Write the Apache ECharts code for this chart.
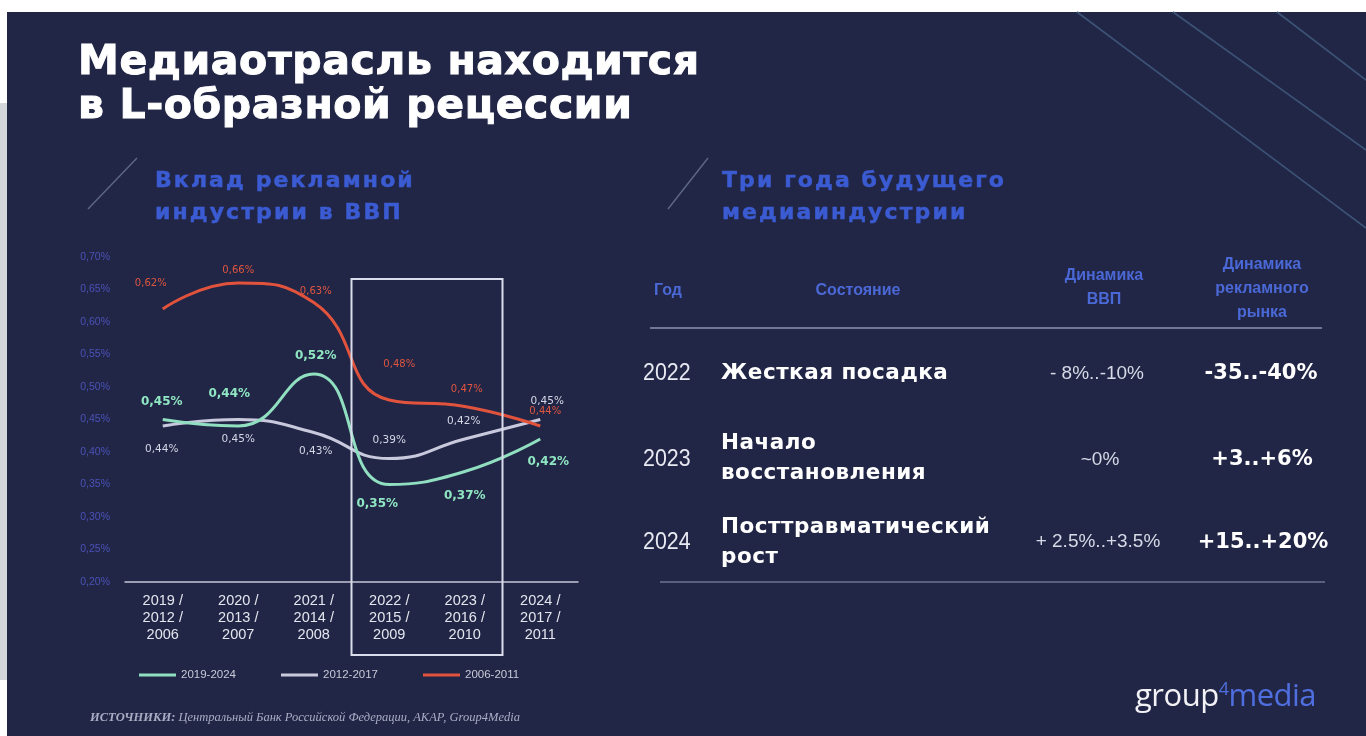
<!DOCTYPE html>
<html><head><meta charset="utf-8">
<script src="https://cdn.jsdelivr.net/npm/echarts@6/dist/echarts.min.js"></script>
<style>
html,body{margin:0;padding:0;width:1366px;height:736px;overflow:hidden;background:#ffffff;}
#slide{position:absolute;left:7px;top:12px;width:1359px;height:724px;background:#222646;}
#gray{position:absolute;left:0;top:103px;width:7px;height:577px;background:#d3d7da;}
#chart{position:absolute;left:0;top:0;width:1366px;height:736px;z-index:2;}
.t{position:absolute;z-index:3;white-space:nowrap;}
.title{left:78px;top:38px;font-family:"DejaVu Sans",sans-serif;font-weight:bold;font-size:41px;line-height:44px;letter-spacing:0.6px;color:#ffffff;-webkit-text-stroke:1px #ffffff;}
.sub{font-family:"DejaVu Sans",sans-serif;font-weight:bold;font-size:22px;line-height:32px;letter-spacing:2.1px;color:#3b5bd2;top:164px;-webkit-text-stroke:0.5px #3b5bd2;}
.hdr{font-family:"Liberation Sans",sans-serif;font-weight:bold;font-size:16px;line-height:24px;color:#4a68d6;text-align:center;transform:translateX(-50%);}
.yr{font-family:"Liberation Sans Narrow","Liberation Sans",sans-serif;font-size:23px;color:#e8eaf2;left:643px;transform:translateY(-50%) scaleX(0.93);transform-origin:left center;}
.st{font-family:"DejaVu Sans",sans-serif;font-weight:bold;font-size:21.5px;line-height:30px;letter-spacing:0.5px;color:#ffffff;left:721px;transform:translateY(-50%);}
.gdp{font-family:"Liberation Sans Narrow","Liberation Sans",sans-serif;font-size:19px;color:#d6dae6;transform:translate(-50%,-50%);}
.adv{font-family:"DejaVu Sans",sans-serif;font-weight:bold;font-size:21px;color:#ffffff;transform:translate(-50%,-50%);}
.logo{left:1135px;top:668px;font-family:"Open Sans",sans-serif;font-size:31px;line-height:40px;color:#f2f2f6;letter-spacing:-0.5px;}
.src{left:90px;top:710px;font-family:"Liberation Serif",serif;font-style:italic;font-size:12.5px;color:#a9adc4;}
</style></head>
<body>
<div id="slide"></div>
<div id="gray"></div>
<svg style="position:absolute;left:0;top:0;z-index:1" width="1366" height="736">
  <line x1="1077" y1="12" x2="1366" y2="228" stroke="#3c5376" stroke-width="1.6"/>
  <line x1="1173" y1="12" x2="1366" y2="150" stroke="#3c5376" stroke-width="1.6"/>
  <line x1="1277" y1="12" x2="1366" y2="80" stroke="#3c5376" stroke-width="1.6"/>
  <line x1="88" y1="209" x2="137" y2="158" stroke="#5d6788" stroke-width="1.4"/>
  <line x1="668" y1="209" x2="708" y2="158" stroke="#5d6788" stroke-width="1.4"/>
  <line x1="650" y1="328" x2="1322" y2="328" stroke="#8d93ad" stroke-width="1.6"/>
  <line x1="660" y1="582" x2="1325" y2="582" stroke="#6d7392" stroke-width="1.6"/>
</svg>
<div id="chart"></div>
<div class="t title">Медиаотрасль находится<br>в L-образной рецессии</div>
<div class="t sub" style="left:155px">Вклад рекламной<br>индустрии в ВВП</div>
<div class="t sub" style="left:722px">Три года будущего<br>медиаиндустрии</div>
<div class="t hdr" style="left:668px;top:278px">Год</div>
<div class="t hdr" style="left:858px;top:278px">Состояние</div>
<div class="t hdr" style="left:1104px;top:263px">Динамика<br>ВВП</div>
<div class="t hdr" style="left:1262px;top:252px">Динамика<br>рекламного<br>рынка</div>
<div class="t yr" style="top:372px">2022</div>
<div class="t yr" style="top:458px">2023</div>
<div class="t yr" style="top:541px">2024</div>
<div class="t st" style="top:372px">Жесткая посадка</div>
<div class="t st" style="top:457px">Начало<br>восстановления</div>
<div class="t st" style="top:541px">Посттравматический<br>рост</div>
<div class="t gdp" style="left:1097px;top:373px">- 8%..-10%</div>
<div class="t gdp" style="left:1100px;top:459px">~0%</div>
<div class="t gdp" style="left:1098px;top:541px">+ 2.5%..+3.5%</div>
<div class="t adv" style="left:1261px;top:372px">-35..-40%</div>
<div class="t adv" style="left:1262px;top:458px">+3..+6%</div>
<div class="t adv" style="left:1263px;top:541px">+15..+20%</div>
<div class="t logo">group<span style="font-size:18px;vertical-align:11px;color:#4f6fe0">4</span><span style="color:#4f6fe0">media</span></div>
<div class="t src"><b>ИСТОЧНИКИ:</b> Центральный Банк Российской Федерации, АКАР, Group4Media</div>
<script>
// ---- data ----
const categories = ['2019 /\n2012 /\n2006','2020 /\n2013 /\n2007','2021 /\n2014 /\n2008','2022 /\n2015 /\n2009','2023 /\n2016 /\n2010','2024 /\n2017 /\n2011'];
const seriesNames = ['2019-2024','2012-2017','2006-2011'];
const values2019_2024 = [0.45,0.44,0.52,0.35,0.37,0.42];
const values2012_2017 = [0.44,0.45,0.43,0.39,0.42,0.45];
const values2006_2011 = [0.62,0.66,0.63,0.48,0.47,0.44];
const yMin = 0.20, yMax = 0.70, yStep = 0.05;
const highlightFrom = 3, highlightTo = 4; // categories inside the frame

// ---- styling (label offsets per point) ----
const colors = ['#8fdfc0','#c9c9de','#e2533d'];
const offs = [
  [[-1,-18],[-9,-32],[2,-18],[-12,19],[0,24],[8,23]],
  [[-1,23],[0,20],[2,19],[0,-18],[-1,-18],[7,-18]],
  [[-12,-26],[0,-13],[2,-11],[10,-36],[2,-17],[5,-15]]
];
const labelStyles = [
  {color:'#8fe6c2',fontSize:12,fontWeight:'bold',fontFamily:'DejaVu Sans'},
  {color:'#d4d7e6',fontSize:10.5,fontFamily:'DejaVu Sans'},
  {color:'#dd553f',fontSize:10,fontFamily:'DejaVu Sans'}
];
const fmt = v => v.toFixed(2).replace('.', ',') + '%';
const all = [values2019_2024, values2012_2017, values2006_2011];

const chart = echarts.init(document.getElementById('chart'), null, {renderer:'canvas'});
chart.setOption({
  backgroundColor:'transparent',
  animation:false,
  color: colors,
  grid:{left:125,right:788,top:257,bottom:154},
  legend:{
    left:134, top:664, itemWidth:37, itemHeight:3, itemGap:45, icon:'rect',
    textStyle:{color:'#c8cad8',fontSize:11.5,fontFamily:'Liberation Sans'},
    data: seriesNames
  },
  xAxis:{
    type:'category', data:categories, boundaryGap:true,
    axisLine:{lineStyle:{color:'#c3c6d8',width:1.5}},
    axisTick:{show:false},
    axisLabel:{color:'#e4e6ee',fontSize:14.5,lineHeight:17,margin:10,fontFamily:'Liberation Sans'}
  },
  yAxis:{
    type:'value', min:yMin, max:yMax, interval:yStep,
    axisLine:{show:false}, axisTick:{show:false}, splitLine:{show:false},
    axisLabel:{color:'#4a52b8',fontSize:10.5,margin:15,fontFamily:'Liberation Sans',formatter:v=>fmt(v)}
  },
  series: all.map((arr,si)=>({
    name: seriesNames[si], type:'line', smooth:0.5,
    symbol:'circle', symbolSize:0.01, showSymbol:true,
    lineStyle:{width:3,color:colors[si]},
    itemStyle:{color:colors[si]},
    emphasis:{disabled:true},
    z: si===2 ? 3 : (si===0 ? 4 : 2),
    data: arr.map((v,i)=>({value:v,label:{show:true,position:'inside',offset:offs[si][i],formatter:p=>fmt(p.value),...labelStyles[si]}}))
  }))
});
const px0 = chart.convertToPixel({xAxisIndex:0}, 0);
const px1 = chart.convertToPixel({xAxisIndex:0}, 1);
const step = px1 - px0;
const xa = chart.convertToPixel({xAxisIndex:0}, highlightFrom) - step/2;
const xb = chart.convertToPixel({xAxisIndex:0}, highlightTo) + step/2;
chart.setOption({graphic:[{type:'rect',z:10,shape:{x:xa,y:279,width:xb-xa,height:376},style:{fill:'none',stroke:'#d9dcea',lineWidth:2}}]});
</script>
</body></html>
